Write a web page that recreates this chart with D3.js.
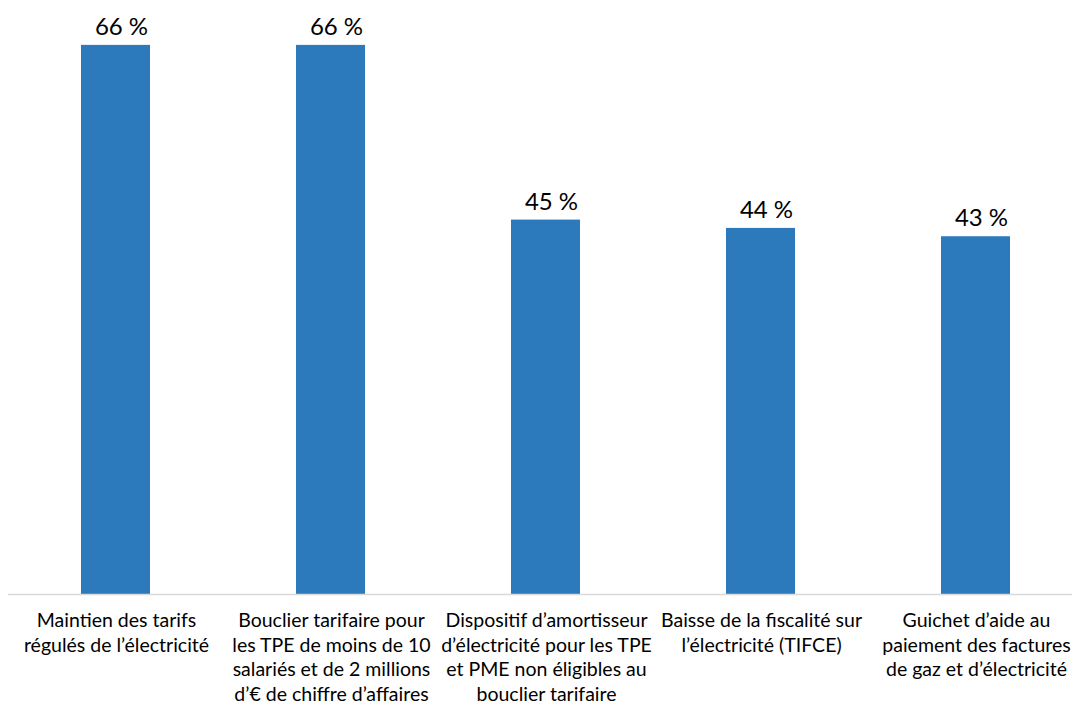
<!DOCTYPE html>
<html><head><meta charset="utf-8">
<script src="https://cdn.jsdelivr.net/npm/d3@7"></script>
<style>html,body{margin:0;padding:0;background:#fff;}svg{display:block;}</style>
</head><body>
<svg id="c" width="1072" height="706"></svg>
<script>
const categories = [
  ["Maintien des tarifs", "régulés de l’électricité"],
  ["Bouclier tarifaire pour", "les TPE de moins de 10", "salariés et de 2 millions", "d’€ de chiffre d’affaires"],
  ["Dispositif d’amortisseur", "d’électricité pour les TPE", "et PME non éligibles au", "bouclier tarifaire"],
  ["Baisse de la fiscalité sur", "l’électricité (TIFCE)"],
  ["Guichet d’aide au", "paiement des factures", "de gaz et d’électricité"]
];
const values = [66, 66, 45, 44, 43];
const valueLabels = ["66 %", "66 %", "45 %", "44 %", "43 %"];

const svg = d3.select("#c");
const font = "Lato, 'Open Sans', sans-serif";
const idx = d3.range(values.length);
const x = d3.scaleBand().domain(idx).range([8, 1083]).paddingInner(0.679).paddingOuter(0.3395);
const y = d3.scaleLinear().domain([0, 70]).range([594, 11.6]);

svg.selectAll("rect.bar").data(idx).join("rect")
  .attr("class","bar")
  .attr("x", i => x(i)).attr("width", x.bandwidth())
  .attr("y", i => y(values[i])).attr("height", i => y(0) - y(values[i]))
  .attr("fill", "#2c7abb");

svg.append("line").attr("x1", 8).attr("x2", 1072).attr("y1", y(0)+0.5).attr("y2", y(0)+0.5)
  .attr("stroke", "#d9d9d9").attr("stroke-width", 1.5);

svg.selectAll("text.val").data(idx).join("text")
  .attr("class","val")
  .attr("x", i => x(i) + x.bandwidth()/2 + 6)
  .attr("y", i => y(values[i]) - 10)
  .attr("text-anchor","middle")
  .attr("font-family", font).attr("font-size", 24).attr("fill","#000")
  .text(i => valueLabels[i]);

const g = svg.selectAll("text.cat").data(idx).join("text")
  .attr("class","cat")
  .attr("text-anchor","middle")
  .attr("font-family", font).attr("font-size", 19.5).attr("fill","#000");
g.each(function(i){
  const t = d3.select(this);
  categories[i].forEach((line, k) => {
    t.append("tspan").attr("x", x(i) + x.bandwidth()/2 + 1).attr("y", 627 + k*24.5).text(line);
  });
});
</script>
</body></html>
